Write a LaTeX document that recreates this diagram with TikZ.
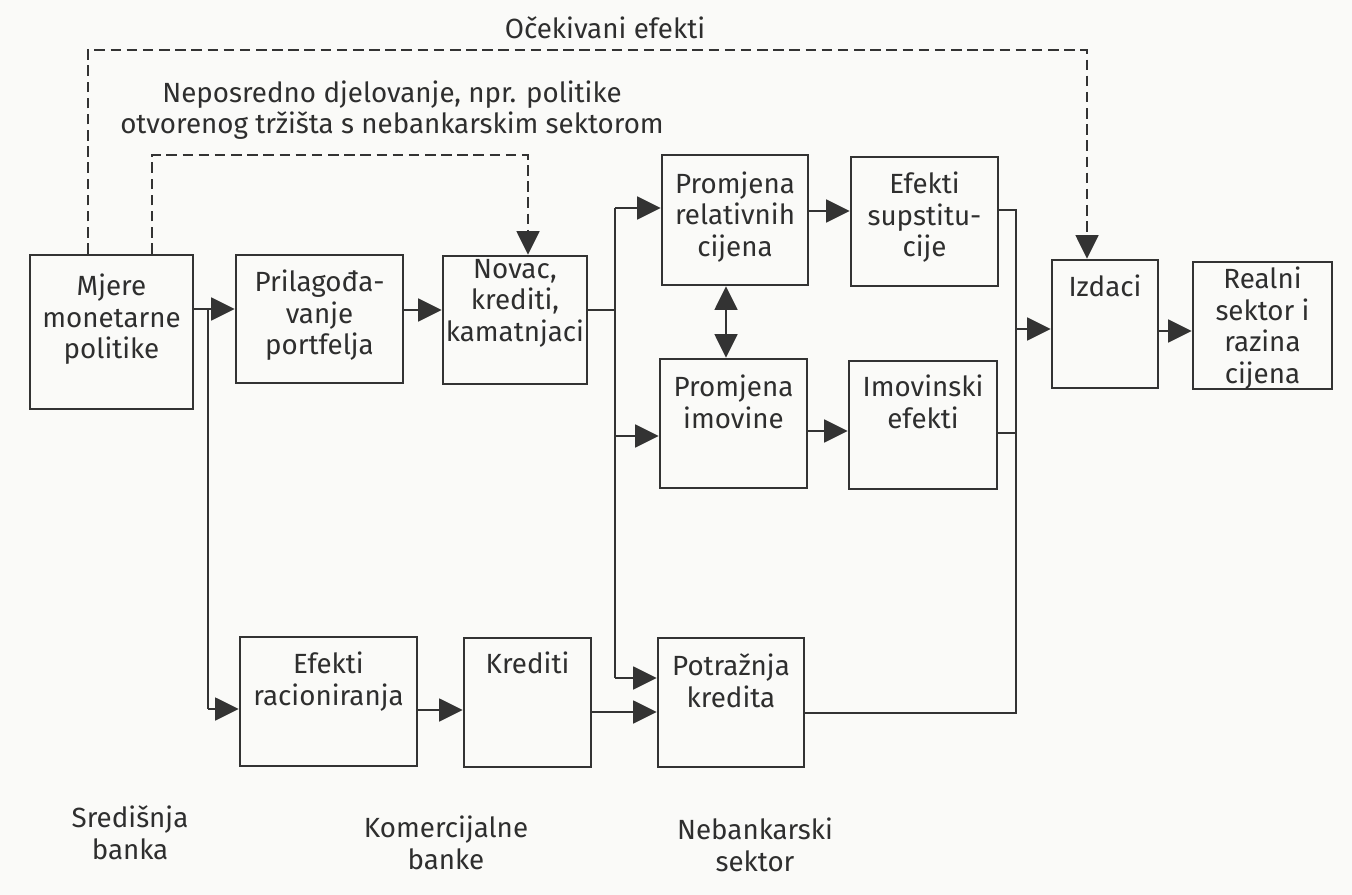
\documentclass[tikz,border=0pt]{standalone}
\usepackage{fontspec}
\setmainfont{Fira Sans}
\usetikzlibrary{arrows.meta,fit,calc}
\definecolor{lc}{HTML}{333333}
\definecolor{tc}{HTML}{2E2E2E}
\definecolor{bg}{HTML}{FAFAF8}
\begin{document}
\begin{tikzpicture}[x=0.02cm,y=-0.02cm,
  box/.style={draw=lc, line width=1.4pt, inner sep=0pt},
  txt/.style={text=tc, font=\fontsize{15.8pt}{18pt}\selectfont, align=center, inner sep=0pt},
  conn/.style={draw=lc, line width=1.3pt},
  tip/.tip={Triangle[length=13.5pt,width=13pt]},
  arr/.style={conn, -tip},
  darr/.style={conn, -tip, dash pattern=on 6pt off 3.2pt}]
\fill[bg] (0,0) rectangle (1352,895);
\useasboundingbox (0,0) rectangle (1352,895);

% boxes
\node[box, fit={(30,255)(193,409)}] (mjere) {};
\node[box, fit={(236,255)(403,383)}] (prilag) {};
\node[box, fit={(443,256)(587,384)}] (novac) {};
\node[box, fit={(662,155)(808,285)}] (relat) {};
\node[box, fit={(851,157)(998,286)}] (supst) {};
\node[box, fit={(660,359)(807,488)}] (imov) {};
\node[box, fit={(849,361)(997,489)}] (imef) {};
\node[box, fit={(1052,260)(1158,388)}] (izdaci) {};
\node[box, fit={(1193,262)(1332,389)}] (realni) {};
\node[box, fit={(240,637)(417,766)}] (racion) {};
\node[box, fit={(464,638)(591,767)}] (krediti) {};
\node[box, fit={(658,638)(804,767)}] (potr) {};

% box texts
\node[txt, anchor=north] (tmjere) at ([yshift=-11.2pt]mjere.north) {Mjere\\monetarne\\politike};
\node[txt, anchor=north] (tprilag) at ([yshift=-9pt]prilag.north) {Prilagođa-\\vanje\\portfelja};
\node[txt, anchor=north] (tnovac) at ([yshift=-2.2pt]novac.north) {Novac,\\krediti,\\kamatnjaci};
\node[txt, anchor=north] (trelat) at ([yshift=-10pt]relat.north) {Promjena\\relativnih\\cijena};
\node[txt, anchor=north] (tsupst) at ([yshift=-9pt]supst.north) {Efekti\\supstitu-\\cije};
\node[txt, anchor=north] (timov) at ([yshift=-9.5pt]imov.north) {Promjena\\imovine};
\node[txt, anchor=north] (timef) at ([yshift=-8.5pt]imef.north) {Imovinski\\efekti};
\node[txt, anchor=north] (tizdaci) at ([yshift=-9pt]izdaci.north) {Izdaci};
\node[txt, anchor=north] (trealni) at ([yshift=-3.3pt]realni.north) {Realni\\sektor i\\razina\\cijena};
\node[txt, anchor=north] (tracion) at ([yshift=-9pt]racion.north) {Efekti\\racioniranja};
\node[txt, anchor=north] (tkrediti) at ([yshift=-8.5pt]krediti.north) {Krediti};
\node[txt, anchor=north] (tpotr) at ([yshift=-9.5pt]potr.north) {Potražnja\\kredita};

% free labels
\node[txt] (ocek) at (605,28) {Očekivani efekti};
\node[txt] (nepos) at (392,110) {Neposredno djelovanje, npr. politike\\otvorenog tržišta s nebankarskim sektorom};
\node[txt] (sred) at (130,833) {Središnja\\banka};
\node[txt] (komer) at (446,843) {Komercijalne\\banke};
\node[txt] (neban) at (755,845) {Nebankarski\\sektor};

% junction coordinates
\coordinate (a1) at (208,309);
\coordinate (a2) at (208,709);
\coordinate (r1) at (615,310);
\coordinate (v1) at (615,208);
\coordinate (v2) at (615,436);
\coordinate (v3) at (615,678);
\coordinate (s1) at (830,211);
\coordinate (s2) at (830,431);
\coordinate (d1) at (726,300);
\coordinate (e1) at (1016,210);
\coordinate (e2) at (1016,433);
\coordinate (e3) at (1016,329);
\coordinate (e4) at (1016,713);
\coordinate (f1) at (1175,331);
\coordinate (g1) at (440,710);
\coordinate (g2) at (620,712);
\coordinate (h1) at (88,50);
\coordinate (h2) at (1087,50);
\coordinate (k1) at (152,155);
\coordinate (k2) at (528,155);

% connectors
\draw[arr] (mjere.east |- a1) -- (prilag.west |- a1);
\draw[conn] (a1) -- (a2);
\draw[arr] (a2) -- (racion.west |- a2);
\draw[arr] (prilag.east |- r1) -- (novac.west |- r1);
\draw[conn] (novac.east |- r1) -- (r1);
\draw[conn] (v1) -- (v3);
\draw[arr] (v1) -- (relat.west |- v1);
\draw[arr] (v2) -- (imov.west |- v2);
\draw[arr] (v3) -- (potr.west |- v3);
\draw[arr] (relat.east |- s1) -- (supst.west |- s1);
\draw[arr] (imov.east |- s2) -- (imef.west |- s2);
\draw[conn, tip-tip] (relat.south -| d1) -- (imov.north -| d1);
\draw[conn] (supst.east |- e1) -- (e1) -- (e4) -- (potr.east |- e4);
\draw[conn] (imef.east |- e2) -- (e2);
\draw[arr] (e3) -- (izdaci.west |- e3);
\draw[arr] (izdaci.east |- f1) -- (realni.west |- f1);
\draw[arr] (racion.east |- g1) -- (krediti.west |- g1);
\draw[arr] (krediti.east |- g2) -- (potr.west |- g2);
\draw[darr] (mjere.north -| h1) -- (h1) -- (h2) -- (izdaci.north -| h2);
\draw[darr] (mjere.north -| k1) -- (k1) -- (k2) -- (novac.north -| k2);
\end{tikzpicture}
\end{document}
